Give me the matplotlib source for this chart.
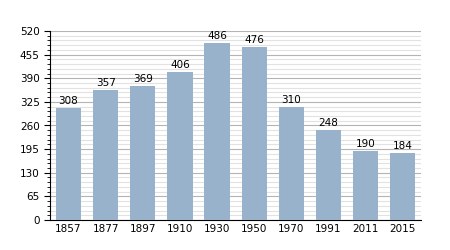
import matplotlib
matplotlib.use("Agg")
import matplotlib.pyplot as plt
from matplotlib.ticker import MultipleLocator

years = ["1857", "1877", "1897", "1910", "1930", "1950", "1970", "1991", "2011", "2015"]
population = [308, 357, 369, 406, 486, 476, 310, 248, 190, 184]

fig = plt.figure(figsize=(4.5, 2.5), dpi=100)
ax = fig.add_axes([0.111, 0.12, 0.825, 0.756])

x = range(len(years))
ax.bar(x, population, width=0.68, color="#98b2cc", zorder=3)
for xi, v in zip(x, population):
    ax.text(xi, v + 6, str(v), ha="center", va="bottom", fontsize=7.5, zorder=4)

ax.set_xlim(-0.5, len(years) - 0.5)
ax.set_ylim(0, 520)
ax.set_xticks(list(x))
ax.set_xticklabels(years)
ax.yaxis.set_major_locator(MultipleLocator(65))
ax.yaxis.set_minor_locator(MultipleLocator(13))
ax.grid(axis="y", which="major", color="#b4b4b4", linewidth=0.8, zorder=0)
ax.grid(axis="y", which="minor", color="#e2e2e2", linewidth=0.8, zorder=0)
ax.tick_params(axis="both", labelsize=7.5)
ax.tick_params(axis="x", length=0, pad=3)
ax.tick_params(axis="y", which="major", length=4, direction="out")
ax.tick_params(axis="y", which="minor", length=2, direction="out")
for s in ["top", "right"]:
    ax.spines[s].set_visible(False)

fig.savefig("out.png", dpi=100)
